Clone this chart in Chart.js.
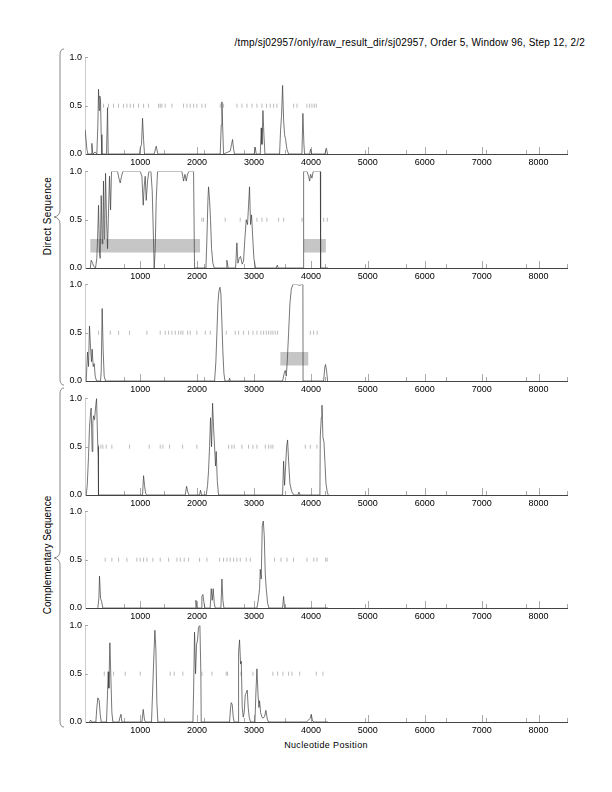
<!DOCTYPE html>
<html>
<head>
<meta charset="utf-8">
<script src="https://cdn.jsdelivr.net/npm/chart.js@4.4.0/dist/chart.umd.min.js"></script>
<style>
  body { margin: 0; background: #fff; }
  #page { position: relative; width: 612px; height: 792px; font-family: "Liberation Sans", Arial, sans-serif; }
  .panel { position: absolute; left: 0; width: 612px; height: 121px; }
  .txt { position: absolute; font-size: 9px; color: #000; white-space: nowrap; }
  .vert { font-size: 10px; transform: translate(-50%, -50%) rotate(-90deg); }
</style>
</head>
<body>
<div id="page">
  <div class="txt" style="right:27px; top:37px; font-size:10px; letter-spacing:0.2px;">/tmp/sj02957/only/raw_result_dir/sj02957, Order 5, Window 96, Step 12, 2/2</div>
  <div class="txt vert" style="left:47px; top:216px; letter-spacing:0.3px;">Direct Sequence</div>
  <div class="txt vert" style="left:47px; top:555px;">Complementary Sequence</div>
  <div class="txt" style="left:326px; top:740px; transform: translateX(-50%); letter-spacing:0.35px;">Nucleotide Position</div>
  <svg width="612" height="792" style="position:absolute; left:0; top:0;">
    <path d="M64 49 Q60 49 60 55 L60 210 Q60 216 54 217 Q60 218 60 224 L60 379 Q60 385 64 385" fill="none" stroke="#888" stroke-width="1"/>
    <path d="M64 388 Q60 388 60 394 L60 551 Q60 557 54 558 Q60 559 60 565 L60 721 Q60 727 64 727" fill="none" stroke="#888" stroke-width="1"/>
  </svg>
</div>
<script>
// axis ticks
const xTicks = [1000, 2000, 3000, 4000, 5000, 6000, 7000, 8000];
const minorTicks = [708, 1416, 2124, 2832, 3540, 4248, 4956, 5664, 6372, 7080, 7788, 8496];
const yTicks = [0, 0.5, 1.0];
const panelTops = [55, 169, 282, 396, 509, 623];

// direct sequence, frame traces [position, probability]
const trace1 = [[33,0.25],[63,0.05],[80,0],[139,0],[150,0.11],[168,0],[209,0.02],[238,0],[256,0.3],[268,0.67],[280,0.45],[291,0.6],[303,0.55],[315,0.2],[327,0],
  [408,0],[426,0.48],[438,0],[988,0],[1000,0.06],[1023,0.1],[1041,0.37],[1059,0.15],[1076,0],[1246,0],[1281,0.08],[1311,0],
  [2406,0],[2424,0.3],[2436,0.54],[2448,0.3],[2465,0],[2582,0.03],[2606,0.1],[2623,0.15],[2641,0.05],[2658,0],
  [3004,0],[3022,0.07],[3039,0],[3110,0],[3127,0.27],[3139,0.1],[3157,0.45],[3174,0.2],[3192,0],
  [3449,0],[3467,0.25],[3484,0.4],[3502,0.71],[3520,0.35],[3537,0.2],[3555,0.15],[3578,0.05],[3608,0],
  [3842,0],[3859,0.42],[3877,0.1],[3889,0],[3977,0],[3994,0.05],[4012,0],[4246,0],[4270,0.06],[4293,0],[4300,0]];
const trace2 = [[122,0],[139,0.08],[163,0.05],[180,0.02],[215,0],[238,0.1],[256,0.4],[268,0.65],[285,0.15],[297,0.1],[315,0.75],[332,0.25],[344,0.35],[355,0.9],[367,0.3],[379,0.5],[391,0.98],[408,0.5],[426,0.2],[444,0.6],[461,0.95],[479,0.6],[496,1.0],
  [602,1.0],[626,0.93],[649,0.88],[672,0.95],[696,1.0],[1000,1.0],[1030,0.95],[1053,0.65],[1071,0.85],[1088,0.95],[1106,0.7],[1129,0.9],[1153,1.0],
  [1188,1.0],[1211,0.8],[1229,0.4],[1246,0],[1264,0.2],[1281,0.7],[1305,1.0],[1733,1.0],[1762,0.9],[1786,0.97],[1809,0.9],[1832,0.97],[1856,1.0],[1938,1.0],[1955,0],
  [2155,0],[2172,0.3],[2190,0.7],[2201,0.84],[2219,0.7],[2236,0.5],[2254,0.2],[2277,0.05],[2301,0],[2511,0],[2523,0.08],[2546,0],
  [2676,0],[2699,0.26],[2717,0.05],[2740,0.1],[2763,0.12],[2793,0.04],[2816,0.07],[2839,0.3],[2863,0.5],[2886,0.45],[2904,0.65],[2921,0.84],[2939,0.45],[2957,0.55],[2974,0.35],[2998,0.1],[3027,0],
  [3391,0],[3409,0.03],[3426,0],[3868,0],[3872,1.0],[3930,1.0],[3959,0.95],[3977,0.9],[3994,0.97],[4018,0.93],[4041,1.0],[4166,1.0],[4170,0],[4300,0]];
const trace3 = [[51,0],[74,0.3],[92,0.15],[109,0.57],[127,0.35],[145,0.2],[156,0.33],[174,0.15],[192,0.18],[209,0.05],[233,0],
  [303,0],[315,0.1],[332,0.75],[350,0.3],[367,0.05],[391,0],[2307,0],[2330,0.2],[2348,0.5],[2366,0.8],[2383,0.93],[2401,0.97],[2418,0.9],[2436,0.6],[2453,0.3],[2471,0.08],[2489,0],
  [2559,0],[2571,0.03],[2582,0],[3502,0],[3531,0.08],[3549,0.11],[3567,0.05],[3584,0.2],[3608,0.5],[3631,0.8],[3655,0.95],[3684,1.0],[3754,1.0],[3801,0.99],[3842,1.0],[3859,1.0],[3862,0],
  [4223,0],[4246,0.15],[4258,0.17],[4276,0.1],[4293,0],[4300,0]];

// complementary sequence, frame traces
const trace4 = [[51,0],[69,0.1],[92,0.4],[109,0.7],[127,0.85],[139,0.9],[156,0.45],[168,0.75],[180,0.82],[197,0.78],[215,0.9],[233,1.0],[250,0.6],[262,0.4],[266,0.5],[268,0],
  [1041,0],[1059,0.2],[1076,0.1],[1094,0.02],[1112,0],[1791,0],[1815,0.09],[1838,0.03],[1856,0],[2043,0],[2060,0.05],[2078,0],
  [2160,0],[2184,0.1],[2201,0.25],[2219,0.5],[2236,0.8],[2254,0.5],[2272,0.95],[2289,0.7],[2307,0.5],[2324,0.3],[2336,0.45],[2354,0.15],[2377,0],
  [3502,0],[3520,0.35],[3537,0.1],[3555,0.3],[3573,0.5],[3590,0.57],[3608,0.35],[3631,0.12],[3660,0.04],[3696,0],[3772,0],[3789,0.03],[3807,0],
  [4158,0],[4164,0.6],[4182,0.8],[4194,0.93],[4211,0.6],[4229,0.55],[4246,0.35],[4264,0.12],[4287,0.03],[4305,0]];
const trace5 = [[256,0],[274,0.1],[285,0.33],[303,0.1],[321,0.07],[344,0],[1967,0],[1979,0.08],[1996,0],[2072,0],[2084,0.12],[2102,0.14],[2119,0.06],[2137,0],
  [2230,0],[2248,0.2],[2266,0.08],[2283,0.2],[2301,0.05],[2318,0],[2418,0],[2436,0.3],[2453,0.08],[2471,0],
  [3051,0],[3074,0.08],[3098,0.2],[3110,0.4],[3127,0.3],[3145,0.85],[3163,0.9],[3180,0.75],[3198,0.35],[3215,0.2],[3239,0.05],[3262,0],
  [3502,0],[3520,0.12],[3537,0],[4300,0]];
const trace6 = [[111,0],[127,0.02],[156,0],[221,0],[238,0.15],[256,0.25],[280,0.22],[297,0.08],[315,0],[408,0],[426,0.3],[438,0.52],[449,0.35],[467,0.82],[485,0.45],[502,0.1],[520,0],
  [626,0],[649,0.06],[661,0.08],[679,0],[1030,0],[1053,0.13],[1076,0.02],[1094,0],[1199,0],[1217,0.3],[1235,0.6],[1258,0.95],[1276,0.75],[1293,0.2],[1311,0],
  [1926,0],[1938,0.3],[1955,0.93],[1973,0.5],[1990,0.8],[2008,0.85],[2025,0.98],[2049,1.0],[2066,0.5],[2072,0],
  [2570,0],[2588,0.15],[2600,0.2],[2617,0.18],[2635,0.05],[2652,0],[2723,0],[2729,0.72],[2746,0.85],[2764,0.6],[2776,0.63],[2793,0.15],[2811,0.05],[2828,0.1],[2846,0.28],[2863,0.3],[2881,0.33],[2898,0.15],[2916,0.05],[2939,0],
  [3016,0],[3033,0.3],[3051,0.55],[3069,0.3],[3086,0.15],[3098,0.22],[3115,0.1],[3139,0.05],[3162,0.04],[3186,0.06],[3209,0.12],[3233,0.03],[3256,0],
  [3918,0],[3959,0.02],[3988,0.04],[4006,0.08],[4029,0.01],[4059,0],[4300,0]];

// stop codon positions (drawn at 0.5)
const stops1 = [356,444,532,619,707,766,825,883,971,1059,1147,1323,1352,1381,1440,1557,1762,1821,1879,1938,1996,2084,2143,2406,2465,2700,2788,2876,2964,3052,3140,3220,3285,3344,3403,3696,3755,3930,3977,4018,4059,4094];
const stops2 = [2084,2113,2494,2758,3051,3140,3227,3432,3520,3843,4224,4288];
const stops3 = [268,474,620,813,1118,1352,1440,1499,1557,1616,1675,1716,1751,1833,1879,1996,2143,2231,2512,2670,2729,2817,2905,2981,3051,3121,3168,3215,3256,3297,3332,3373,3414,3990,4047,4110];
const stops4 = [268,309,344,403,502,813,1159,1352,1399,1516,1745,1996,2553,2611,2652,2787,2905,2981,3051,3198,3256,3297,3332,3901,3989,4106];
const stops5 = [385,502,620,766,942,1000,1059,1118,1223,1352,1499,1645,1704,1774,1850,2043,2172,2395,2465,2524,2582,2641,2700,2758,2864,2934,3362,3474,3579,3696,3930,4050,4106,4260,4285];
const stops6 = [368,532,737,1000,1527,1598,1750,2084,2260,2512,2536,2770,2981,3332,3414,3508,3608,3667,3801,4094,4211];

// predicted regions [start, end]
const boxes2 = [[121, 2054], [3870, 4264]];
const boxes3 = [[3460, 3958]];
const boxLow = 0.16, boxHigh = 0.30;

const traces = [trace1, trace2, trace3, trace4, trace5, trace6];
const stops = [stops1, stops2, stops3, stops4, stops5, stops6];
const boxes = [[], boxes2, boxes3, [], [], []];

const inwardTicks = {
  id: 'inwardTicks',
  beforeDatasetsDraw(chart) {
    const {ctx, chartArea, scales: {x, y}} = chart;
    ctx.save();
    ctx.strokeStyle = '#aaa';
    ctx.lineWidth = 1;
    ctx.beginPath();
    xTicks.forEach(v => {
      const px = Math.round(x.getPixelForValue(v)) + 0.5;
      ctx.moveTo(px, chartArea.bottom);
      ctx.lineTo(px, chartArea.bottom - 7);
    });
    minorTicks.forEach(v => {
      const px = Math.round(x.getPixelForValue(v)) + 0.5;
      ctx.moveTo(px, chartArea.bottom);
      ctx.lineTo(px, chartArea.bottom - 4);
    });
    yTicks.slice(1).forEach(v => {
      const py = Math.round(y.getPixelForValue(v)) + 0.5;
      ctx.moveTo(chartArea.left, py);
      ctx.lineTo(chartArea.left + 3, py);
    });
    ctx.stroke();
    ctx.restore();
  }
};

const tickFont = {family: '"Liberation Sans", Arial, sans-serif', size: 9};

traces.forEach((trace, i) => {
  const div = document.createElement('div');
  div.className = 'panel';
  div.style.top = (panelTops[i] - 6) + 'px';
  const canvas = document.createElement('canvas');
  div.appendChild(canvas);
  document.getElementById('page').appendChild(div);

  const datasets = [];
  datasets.push({
    data: trace.map(p => ({x: p[0], y: p[1]})),
    borderColor: '#3c3c3c', borderWidth: 0.7, pointRadius: 0, fill: false, order: 0
  });
  datasets.push({
    data: stops[i].map(v => ({x: v, y: 0.5})),
    showLine: false, pointStyle: 'line', rotation: 90, pointRadius: 2,
    pointBorderWidth: 0.8, pointBorderColor: '#aaa', order: 1
  });
  boxes[i].forEach(b => {
    datasets.push({
      data: [{x: b[0], y: boxHigh}, {x: b[1], y: boxHigh}],
      borderWidth: 0, pointRadius: 0, fill: {value: boxLow},
      backgroundColor: '#c6c6c6', order: 2
    });
  });

  new Chart(canvas, {
    type: 'line',
    data: {datasets: datasets},
    options: {
      animation: false,
      responsive: true,
      maintainAspectRatio: false,
      layout: {padding: {top: 6, right: 45, left: 0, bottom: 0}},
      plugins: {legend: {display: false}, tooltip: {enabled: false}},
      scales: {
        x: {
          type: 'linear', min: 30, max: 8500,
          afterBuildTicks: s => { s.ticks = xTicks.map(v => ({value: v})); },
          afterFit: s => { s.height = 16; },
          grid: {display: false, drawTicks: false},
          border: {display: true, color: '#444', width: 1},
          ticks: {font: tickFont, color: '#000', padding: 3, maxRotation: 0, autoSkip: false, callback: v => String(v)}
        },
        y: {
          min: 0, max: 1,
          afterBuildTicks: s => { s.ticks = yTicks.map(v => ({value: v})); },
          afterFit: s => { s.width = 85; },
          grid: {display: false, drawTicks: false},
          border: {display: true, color: '#ccc', width: 1},
          ticks: {font: tickFont, color: '#000', padding: 3, callback: v => v.toFixed(1)}
        }
      }
    },
    plugins: [inwardTicks]
  });
});
</script>
</body>
</html>
